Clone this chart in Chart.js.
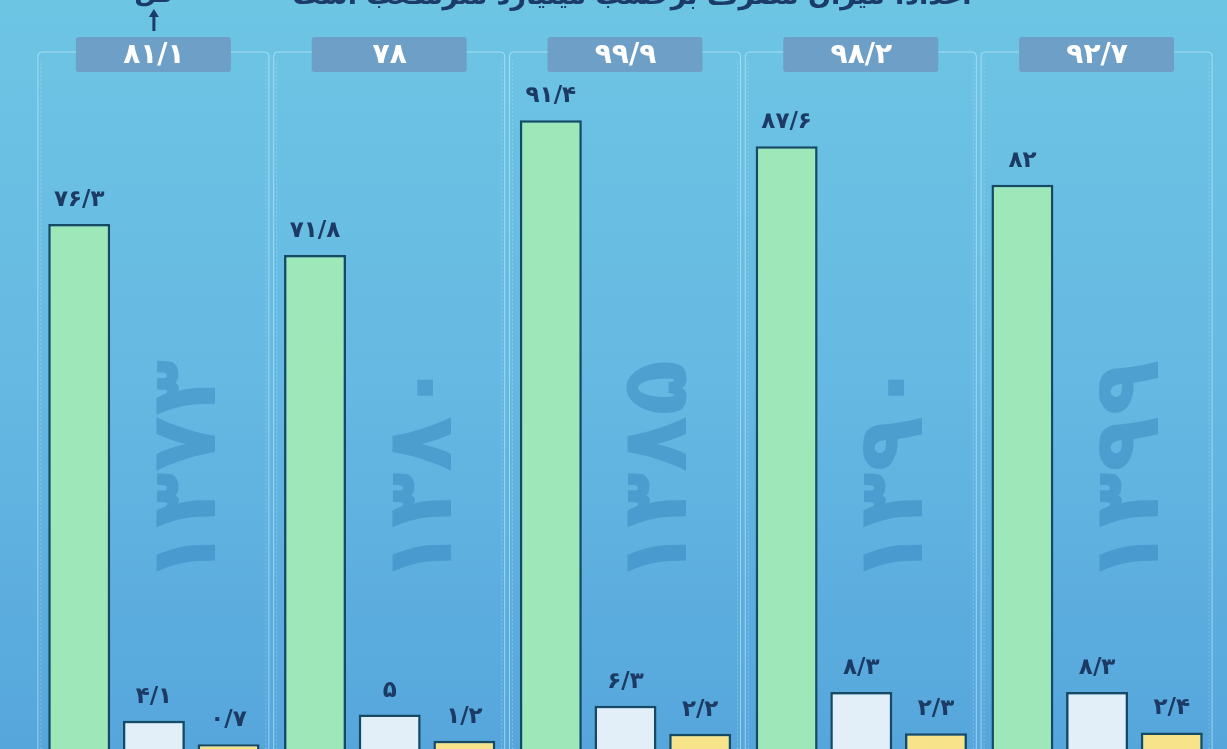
<!DOCTYPE html>
<html>
<head>
<meta charset="utf-8">
<script src="https://cdn.jsdelivr.net/npm/chart.js@4/dist/chart.umd.min.js"></script>
<style>
    html, body { margin: 0; padding: 0; background: #60b6e0; }
    #wrap { width: 1227px; height: 749px; }
</style>
</head>
<body>
<div id="wrap"><canvas id="waterChart" width="1227" height="749"></canvas></div>
<script>
// years (Persian calendar) and totals shown in the header boxes
const years = ["۱۳۷۳", "۱۳۸۰", "۱۳۸۵", "۱۳۹۰", "۱۳۹۹"];
const totals = [81.1, 78, 99.9, 98.2, 92.7];

// consumption in billion cubic metres
const agriculture = [76.3, 71.8, 91.4, 87.6, 82];
const drinking = [4.1, 5, 6.3, 8.3, 8.3];
const industry = [0.7, 1.2, 2.2, 2.3, 2.4];

const seriesNames = ["کشاورزی", "شرب", "صنعت"];
const titleText = "اعداد: میزان مصرف برحسب میلیارد مترمکعب است";

const faDigits = "۰۱۲۳۴۵۶۷۸۹";
function toFa(v) {
    return String(v).replace(".", "/").replace(/\d/g, d => faDigits[d]);
}

const FONT = "'DejaVu Sans', 'Noto Sans', sans-serif";

const backdrop = {
    id: "backdrop",
    beforeDraw(chart) {
        const { ctx, width, height, scales } = chart;
        const x = scales.x;
        ctx.save();

        const grad = ctx.createLinearGradient(0, 0, 0, height);
        grad.addColorStop(0, "#6dc5e4");
        grad.addColorStop(0.5, "#66b9e2");
        grad.addColorStop(1, "#56a6dc");
        ctx.fillStyle = grad;
        ctx.fillRect(0, 0, width, height);

        years.forEach((year, i) => {
            const cx = x.getPixelForValue(i);
            const left = cx - 116;
            const right = cx + 115;

            // panel outlines
            ctx.strokeStyle = "rgba(200,240,255,0.6)";
            ctx.lineWidth = 1;
            ctx.beginPath();
            ctx.moveTo(left, height + 5);
            ctx.lineTo(left, 56);
            ctx.quadraticCurveTo(left, 52, left + 4, 52);
            ctx.lineTo(right - 4, 52);
            ctx.quadraticCurveTo(right, 52, right, 56);
            ctx.lineTo(right, height + 5);
            ctx.stroke();

            ctx.strokeStyle = "rgba(200,240,255,0.3)";
            ctx.setLineDash([2, 2]);
            ctx.beginPath();
            ctx.moveTo(left + 3, height);
            ctx.lineTo(left + 3, 60);
            ctx.moveTo(right - 3, height);
            ctx.lineTo(right - 3, 60);
            ctx.stroke();
            ctx.setLineDash([]);

            // big faded year
            ctx.save();
            ctx.translate(cx + 37, 472);
            ctx.rotate(-Math.PI / 2);
            ctx.fillStyle = "rgba(35,115,175,0.35)";
            ctx.font = "bold 92px " + FONT;
            ctx.textAlign = "center";
            ctx.textBaseline = "middle";
            ctx.direction = "ltr";
            ctx.fillText(year, 0, 0);
            ctx.restore();

            // header box with total
            ctx.fillStyle = "#6e9fc6";
            ctx.beginPath();
            ctx.roundRect(cx - 78, 37, 155, 35, 3);
            ctx.fill();
            ctx.fillStyle = "#ffffff";
            ctx.font = "bold 28px " + FONT;
            ctx.textAlign = "center";
            ctx.textBaseline = "middle";
            ctx.direction = "ltr";
            ctx.fillText(toFa(totals[i]), cx, 56);
        });

        // title, cut by the top edge
        ctx.fillStyle = "#1b3b68";
        ctx.font = "bold 27px " + FONT;
        ctx.textAlign = "center";
        ctx.textBaseline = "alphabetic";
        ctx.direction = "rtl";
        ctx.fillText(titleText, 632, 4);

        // arrow to the first total
        const ax = x.getPixelForValue(0);
        ctx.fillText("کل", ax, 2);
        ctx.strokeStyle = "#1b3b68";
        ctx.lineWidth = 3;
        ctx.beginPath();
        ctx.moveTo(ax, 31);
        ctx.lineTo(ax, 16);
        ctx.stroke();
        ctx.fillStyle = "#1b3b68";
        ctx.beginPath();
        ctx.moveTo(ax - 5, 17);
        ctx.lineTo(ax + 5, 17);
        ctx.lineTo(ax, 9);
        ctx.closePath();
        ctx.fill();

        ctx.restore();
    }
};

const valueLabels = {
    id: "valueLabels",
    afterDatasetsDraw(chart) {
        const { ctx } = chart;
        ctx.save();
        ctx.fillStyle = "#1c3a64";
        ctx.font = "bold 23px " + FONT;
        ctx.textAlign = "center";
        ctx.textBaseline = "alphabetic";
        ctx.direction = "ltr";
        chart.data.datasets.forEach((ds, d) => {
            chart.getDatasetMeta(d).data.forEach((bar, i) => {
                ctx.fillText(toFa(ds.data[i]), bar.x, bar.y - 18);
            });
        });
        ctx.restore();
    }
};

new Chart(document.getElementById("waterChart"), {
    type: "bar",

    data: {
        labels: years,

        datasets: [
            {
                label: seriesNames[0],
                data: agriculture,
                backgroundColor: "#9de7b8",
                borderColor: "#174a62",
                borderWidth: 2.5
            },
            {
                label: seriesNames[1],
                data: drinking,
                backgroundColor: "#e2eef8",
                borderColor: "#174a62",
                borderWidth: 2.5
            },
            {
                label: seriesNames[2],
                data: industry,
                backgroundColor: "#f7e48a",
                borderColor: "#174a62",
                borderWidth: 2.5
            }
        ]
    },

    options: {
        responsive: false,
        animation: false,
        categoryPercentage: 0.95,
        barPercentage: 0.83,

        layout: {
            padding: { left: 36, right: 12, top: 61, bottom: 0 }
        },

        plugins: {
            legend: { display: false },
            tooltip: { enabled: false }
        },

        scales: {
            x: { display: false },
            y: { display: false, min: 0, max: 100 }
        }
    },

    plugins: [backdrop, valueLabels]
});
</script>
</body>
</html>
